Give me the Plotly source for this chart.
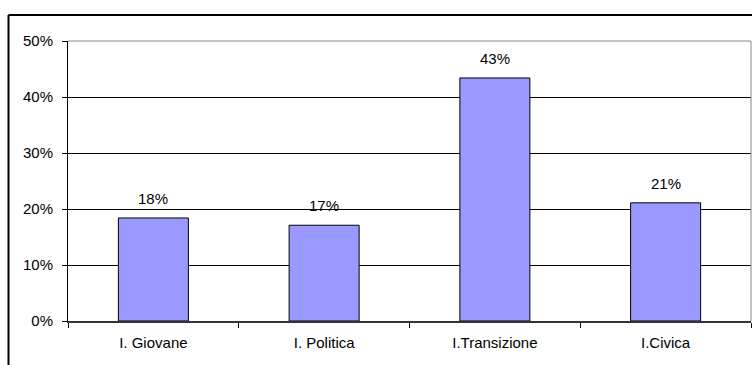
import plotly.graph_objects as go

categories = ["I. Giovane", "I. Politica", "I.Transizione", "I.Civica"]
values = [0.184, 0.171, 0.434, 0.211]
labels = ["18%", "17%", "43%", "21%"]

W, H = 752, 365
L, R, T, B = 68, 1, 41, 44
pw, ph = W - L - R, H - T - B
FONT = "Liberation Sans, Arial"
FS = 15

def px_x(x):
    return (x - L) / pw

def px_y(y):
    return (H - B - y) / ph

fig = go.Figure(go.Bar(
    x=categories, y=values,
    marker=dict(color="#9999FF", line=dict(color="black", width=1)),
))

annotations = [
    dict(x=c, y=v, text=t, xref="x", yref="y", showarrow=False,
         yanchor="bottom", yshift=9, font=dict(family=FONT, size=FS, color="black"))
    for c, v, t in zip(categories, values, labels)
]

fig.update_layout(
    width=W, height=H,
    margin=dict(l=L, r=R, t=T, b=B),
    paper_bgcolor="white", plot_bgcolor="white",
    bargap=0.59,
    showlegend=False,
    font=dict(family=FONT, size=FS, color="black"),
    annotations=annotations,
    xaxis=dict(showline=True, linecolor="#333", linewidth=2, ticks="outside",
               tickson="boundaries", ticklen=5, tickcolor="black",
               showgrid=False, tickfont=dict(size=FS), ticklabelstandoff=7),
    yaxis=dict(range=[0, 0.5], dtick=0.1, tickformat=".0%", showgrid=True,
               gridcolor="black", gridwidth=1, showline=True, linecolor="black",
               linewidth=1, ticks="outside", ticklen=5, tickcolor="black",
               zeroline=False, tickfont=dict(size=FS), ticklabelstandoff=6),
    shapes=[
        dict(type="line", xref="paper", yref="paper", x0=0, x1=1, y0=1, y1=1,
             line=dict(color="#888", width=1)),
        dict(type="line", xref="paper", yref="paper", x0=1, x1=1, y0=0, y1=1,
             line=dict(color="#888", width=1)),
        dict(type="line", xref="paper", yref="paper", x0=px_x(8.5), x1=px_x(800),
             y0=px_y(15), y1=px_y(15), line=dict(color="black", width=2)),
        dict(type="line", xref="paper", yref="paper", x0=px_x(8.5), x1=px_x(8.5),
             y0=px_y(15), y1=px_y(400), line=dict(color="black", width=2)),
    ],
)

fig.write_html("out.html")
